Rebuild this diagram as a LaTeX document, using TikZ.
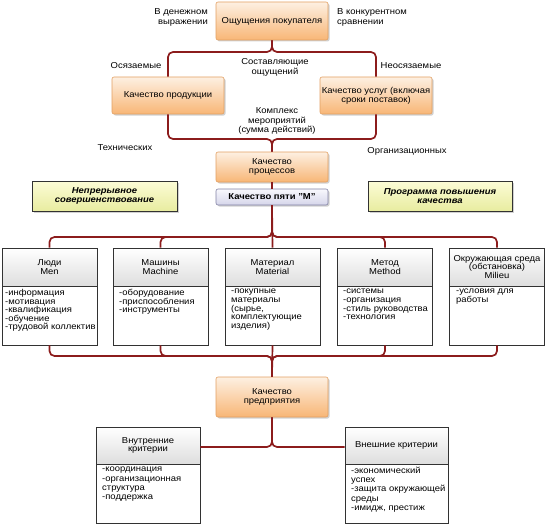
\documentclass[tikz,border=0pt]{standalone}
\usepackage{fontspec}
\setmainfont[FakeStretch=1.1]{Liberation Sans}
\usetikzlibrary{shadows}
\definecolor{connred}{RGB}{140,28,28}
\definecolor{orangetop}{RGB}{253,240,226}
\definecolor{orangebot}{RGB}{248,182,118}
\definecolor{orangeborder}{RGB}{226,160,98}
\definecolor{lavtop}{RGB}{248,248,253}
\definecolor{lavbot}{RGB}{214,214,234}
\definecolor{lavborder}{RGB}{130,130,165}
\definecolor{yeltop}{RGB}{252,252,214}
\definecolor{yelbot}{RGB}{232,236,160}
\definecolor{boxborder}{RGB}{50,50,50}
\begin{document}
\begin{tikzpicture}[x=1pt,y=-1pt,
  font=\fontsize{8.6}{9}\selectfont,
  shad/.style={drop shadow={shadow xshift=1.5pt,shadow yshift=-1.5pt,opacity=0.3,fill=black!60}},
  orangebox/.style={draw=orangeborder,line width=0.6pt,rounded corners=2pt,top color=orangetop,bottom color=orangebot,minimum width=112pt,align=center,inner sep=1pt,shad},
  lavbox/.style={draw=lavborder,line width=0.6pt,rounded corners=2pt,top color=lavtop,bottom color=lavbot,minimum width=112pt,minimum height=16pt,align=center,inner sep=1pt,font=\fontsize{8.6}{9}\selectfont\bfseries,shad},
  yelbox/.style={draw=boxborder,line width=0.7pt,top color=yeltop,bottom color=yelbot,minimum height=30pt,align=center,inner sep=1pt,font=\fontsize{8.6}{9.5}\selectfont\bfseries\itshape,shad},
  hdr/.style={draw=boxborder,line width=0.7pt,top color=white,bottom color=black!13,minimum height=38pt,align=center,inner sep=1pt,font=\fontsize{8.6}{8.6}\selectfont},
  bodybox/.style={draw=boxborder,line width=0.7pt,fill=white,minimum height=59pt,inner sep=0pt},
  bodytxt/.style={anchor=north west,align=left,inner sep=0pt,font=\fontsize{8.6}{8.6}\selectfont},
  lbl/.style={align=center,inner sep=0pt,font=\fontsize{8.6}{10}\selectfont},
  conn/.style={draw=connred,line width=1.7pt,rounded corners=5pt}]
\useasboundingbox (0,0) rectangle (552,527);

% top level
\node[orangebox,minimum height=38pt] (top) at (272,21) {Ощущения покупателя};
\node[orangebox,minimum height=37pt] (prod) at (168,95.5) {Качество продукции};
\node[orangebox,minimum height=37pt] (serv) at (376,95.5) {Качество услуг (включая\\сроки поставок)};
\node[orangebox,minimum height=30pt] (proc) at (272,167) {Качество\\процессов};
\node[lavbox] (m5) at (272,197) {Качество пяти "М"};
\node[yelbox,minimum width=145pt] (yel1) at (104.5,196) {Непрерывное\\совершенствование};
\node[yelbox,minimum width=144pt] (yel2) at (440,196) {Программа повышения\\качества};

% labels
\node[lbl,anchor=east,align=right] (l1) at (208,17) {В денежном\\выражении};
\node[lbl,anchor=west,align=left] (l2) at (337,17) {В конкурентном\\сравнении};
\node[lbl] (l3) at (136,66) {Осязаемые};
\node[lbl] (l4) at (411,66) {Неосязаемые};
\node[lbl] (l5) at (275,67) {Составляющие\\ощущений};
\node[lbl,font=\fontsize{8.6}{9.2}\selectfont] (l6) at (277,121) {Комплекс\\мероприятий\\(сумма действий)};
\node[lbl] (l7) at (125,148) {Технических};
\node[lbl] (l8) at (407,151) {Организационных};

% five M boxes
\node[hdr,minimum width=95pt] (h1) at (49.5,267) {Люди\\Men};
\node[hdr,minimum width=95pt] (h2) at (160.5,267) {Машины\\Machine};
\node[hdr,minimum width=95pt] (h3) at (272.5,267) {Материал\\Material};
\node[hdr,minimum width=95pt] (h4) at (385,267) {Метод\\Method};
\node[hdr,minimum width=95pt] (h5) at (497,267) {Окружающая среда\\(обстановка)\\Milieu};
\node[bodybox,minimum width=95pt] (b1) at (49.5,315.5) {};
\node[bodybox,minimum width=95pt] (b2) at (160.5,315.5) {};
\node[bodybox,minimum width=95pt] (b3) at (272.5,315.5) {};
\node[bodybox,minimum width=95pt] (b4) at (385,315.5) {};
\node[bodybox,minimum width=95pt] (b5) at (497,315.5) {};
\node[bodytxt] (t1) at (5,289) {-информация\\-мотивация\\-квалификация\\-обучение\\-трудовой коллектив};
\node[bodytxt] (t2) at (119,289) {-оборудование\\-приспособления\\-инструменты};
\node[bodytxt] (t3) at (231,289) {-покупные\\материалы\\(сырье,\\комплектующие\\изделия)};
\node[bodytxt] (t4) at (343,289) {-системы\\-организация\\-стиль руководства\\-технология};
\node[bodytxt] (t5) at (456,289) {-условия для\\работы};

% enterprise
\node[orangebox,minimum height=40pt] (ent) at (272,397) {Качество\\предприятия};
\node[hdr,minimum width=104pt,minimum height=37pt] (ih) at (148,445.5) {Внутренние\\критерии};
\node[hdr,minimum width=103pt,minimum height=37pt] (eh) at (396.5,445.5) {Внешние критерии};
\node[bodybox,minimum width=104pt] (ib) at (148,493.5) {};
\node[bodybox,minimum width=103pt] (eb) at (396.5,493.5) {};
\node[bodytxt,font=\fontsize{8.6}{9.2}\selectfont] (it) at (102,467) {-координация\\-организационная\\структура\\-поддержка};
\node[bodytxt,font=\fontsize{8.6}{9.2}\selectfont] (et) at (351,467) {-экономический\\успех\\-защита окружающей\\среды\\-имидж, престиж};

% connectors
\coordinate (j0) at (272,52);
\coordinate (j1) at (272,139);
\coordinate (j2) at (272,237);
\coordinate (j3) at (272,356);
\coordinate (j4) at (272,447);
\draw[conn] (top.south) -- (j0) -| (prod.north);
\draw[conn] (top.south) -- (j0) -| (serv.north);
\draw[conn] (prod.south) |- (j1) -- (proc.north);
\draw[conn] (serv.south) |- (j1) -- (proc.north);
\draw[conn] (proc.south) -- (m5.north);
\draw[conn] (m5.south) -- (j2) -| (h1.north);
\draw[conn] (m5.south) -- (j2) -| (h2.north);
\draw[conn] (m5.south) -- (h3.north);
\draw[conn] (m5.south) -- (j2) -| (h4.north);
\draw[conn] (m5.south) -- (j2) -| (h5.north);
\draw[conn] (b1.south) |- (j3) -- (ent.north);
\draw[conn] (b2.south) |- (j3) -- (ent.north);
\draw[conn] (b3.south) -- (ent.north);
\draw[conn] (b4.south) |- (j3) -- (ent.north);
\draw[conn] (b5.south) |- (j3) -- (ent.north);
\draw[conn] (ent.south) -- (j4) -- (ih.east |- j4);
\draw[conn] (ent.south) -- (j4) -- (eh.west |- j4);
\end{tikzpicture}
\end{document}
